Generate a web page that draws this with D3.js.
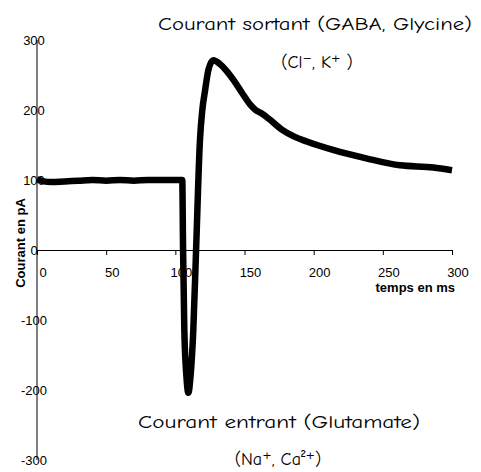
<!DOCTYPE html>
<html>
<head>
<meta charset="utf-8">
<script src="https://cdn.jsdelivr.net/npm/d3@7"></script>
<style>
  body { margin: 0; background: #fff; }
  svg { display: block; }
  .tick-label { font-family: "Liberation Sans", Arial, sans-serif; font-size: 13px; fill: #000; }
  .axis-title { font-family: "Liberation Sans", Arial, sans-serif; font-size: 13px; font-weight: bold; fill: #000; }
  .note { font-family: "Comic Sans MS", "Comic Neue", "DejaVu Sans", sans-serif; fill: #000; }
</style>
</head>
<body>
<svg width="481" height="472"></svg>
<script>
// time (ms) and current (pA)
const timeMs = [0, 5, 10, 20, 30, 40, 50, 60, 70, 80, 90, 100, 105,
  105.6, 106.5, 108, 109.4, 111, 113, 115, 117.8, 119.5, 121.5, 124, 127.5,
  132, 137, 142, 148, 154, 158, 162.5, 168.5, 177, 186, 195, 214, 238, 262.5, 286.5, 300];
const currentPA = [101, 98, 97, 98, 99, 100, 99, 100, 99, 100, 100, 100, 100,
  0, -114, -180, -204, -180, -114, 0, 157, 200, 228, 258, 271,
  266, 256, 243, 225, 208, 200, 195, 186, 172, 162, 155, 143, 131, 121, 118, 114];

const xTicks = [0, 50, 100, 150, 200, 250, 300];
const yTicks = [300, 200, 100, 0, -100, -200, -300];

const svg = d3.select("svg");

const x = d3.scaleLinear().domain([0, 300]).range([37, 452]);
const y = d3.scaleLinear().domain([-300, 300]).range([460, 40]);

// axes lines
svg.append("line")
  .attr("x1", x(0)).attr("x2", x(0))
  .attr("y1", y(300)).attr("y2", y(-300))
  .attr("stroke", "#000").attr("stroke-width", 1);

svg.append("g")
  .attr("transform", `translate(0, ${y(0)})`)
  .call(d3.axisBottom(x).tickValues(xTicks).tickSize(5).tickFormat(""))
  .call(g => g.selectAll("path, line").attr("stroke", "#000"));

// tick labels
svg.selectAll(".xl")
  .data(xTicks)
  .enter().append("text")
  .attr("class", "tick-label")
  .attr("x", d => x(d) + 6)
  .attr("y", y(0) + 27)
  .attr("text-anchor", "middle")
  .text(d => d);

svg.selectAll(".yl")
  .data(yTicks)
  .enter().append("text")
  .attr("class", "tick-label")
  .attr("x", x(0) - 3)
  .attr("y", d => y(d) + 5)
  .attr("text-anchor", "middle")
  .text(d => d);

// axis titles
svg.append("text")
  .attr("class", "axis-title")
  .attr("x", 455).attr("y", 292)
  .attr("text-anchor", "end")
  .text("temps en ms");

svg.append("text")
  .attr("class", "axis-title")
  .attr("transform", "translate(24.5, 243) rotate(-90)")
  .attr("text-anchor", "middle")
  .text("Courant en pA");

// trace
const line = d3.line()
  .x((d, i) => x(timeMs[i]))
  .y(d => y(d))
  .curve(d3.curveMonotoneX);

svg.append("path")
  .datum(currentPA)
  .attr("d", line)
  .attr("fill", "none")
  .attr("stroke", "#000")
  .attr("stroke-width", 6.5)
  .attr("stroke-linejoin", "miter");

// annotations
svg.append("text").attr("class", "note")
  .attr("x", 315).attr("y", 30)
  .attr("font-size", 18)
  .attr("text-anchor", "middle")
  .attr("textLength", 314).attr("lengthAdjust", "spacingAndGlyphs")
  .text("Courant sortant (GABA, Glycine)");

svg.append("text").attr("class", "note")
  .attr("x", 317).attr("y", 68)
  .attr("font-size", 18)
  .attr("text-anchor", "middle")
  .text("(Cl⁻, K⁺ )");

svg.append("text").attr("class", "note")
  .attr("x", 279).attr("y", 428)
  .attr("font-size", 18)
  .attr("text-anchor", "middle")
  .attr("textLength", 282).attr("lengthAdjust", "spacingAndGlyphs")
  .text("Courant entrant (Glutamate)");

svg.append("text").attr("class", "note")
  .attr("x", 278).attr("y", 465)
  .attr("font-size", 18)
  .attr("text-anchor", "middle")
  .text("(Na⁺, Ca²⁺)");
</script>
</body>
</html>
